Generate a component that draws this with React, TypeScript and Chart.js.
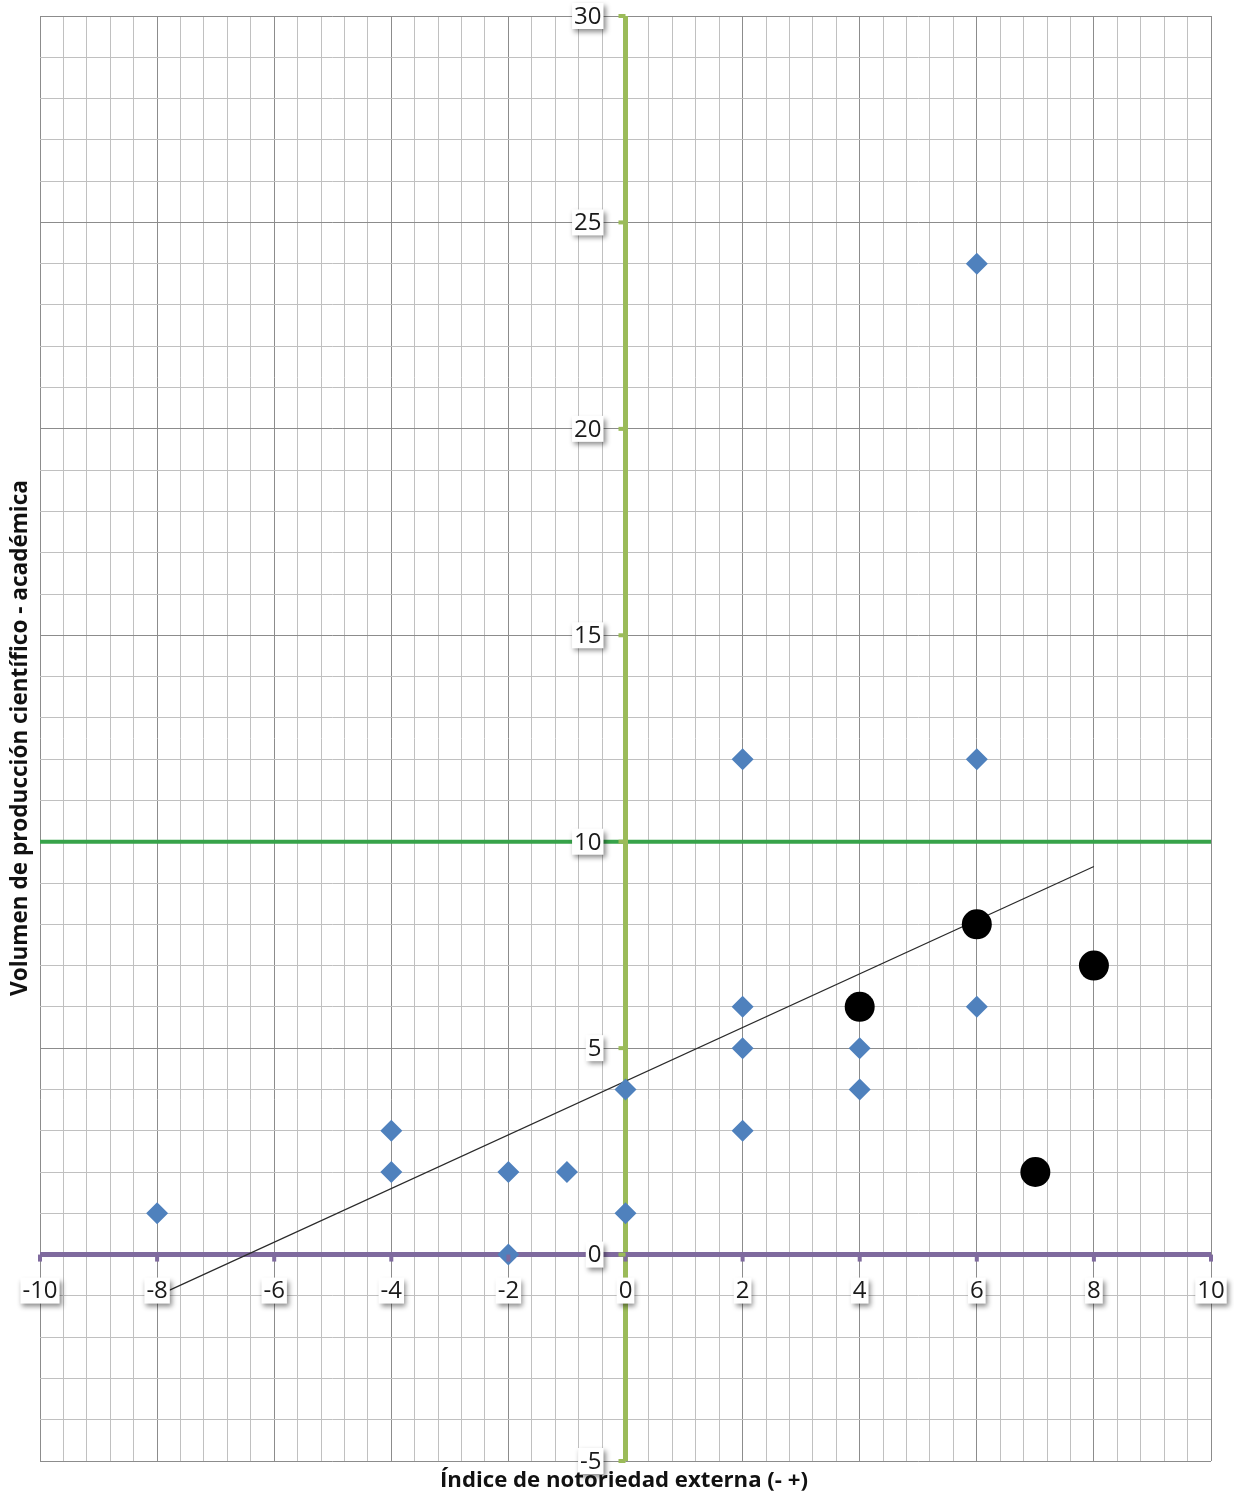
import React, { useEffect, useRef } from "react";
import { Chart, registerables } from "chart.js";

Chart.register(...registerables);

// ---- data ----
const diamondX = [-8, -4, -4, -2, -2, -1, 0, 0, 2, 2, 2, 2, 4, 4, 6, 6, 6];
const diamondY = [1, 3, 2, 2, 0, 2, 4, 1, 12, 6, 5, 3, 5, 4, 24, 12, 6];
const circleX = [4, 6, 7, 8];
const circleY = [6, 8, 2, 7];
const trendX = [-8, 8];
const trendY = [-1.0, 9.4];
const thresholdY = 10;
const xTickLabels = [-10, -8, -6, -4, -2, 0, 2, 4, 6, 8, 10];
const yTickLabels = [-5, 0, 5, 10, 15, 20, 25, 30];
const xRange = [-10, 10];
const yRange = [-5, 30];
const xTitle = "Índice de notoriedad externa (- +)";
const yTitle = "Volumen de producción científico - académica";

const TICK_FONT = "24px 'Open Sans'";
const TITLE_FAMILY = "'Open Sans'";

function isMultiple(v: number, m: number) {
  const r = v / m;
  return Math.abs(r - Math.round(r)) < 1e-6;
}

function drawLabelBox(ctx: CanvasRenderingContext2D, text: string, x: number, y: number, align: "center" | "right") {
  ctx.save();
  ctx.font = TICK_FONT;
  const w = ctx.measureText(text).width;
  const h = 26;
  const left = align === "center" ? x - w / 2 - 2 : x - w - 2;
  ctx.shadowColor = "rgba(0,0,0,0.45)";
  ctx.shadowBlur = 5;
  ctx.shadowOffsetX = 2;
  ctx.shadowOffsetY = 3;
  ctx.fillStyle = "#ffffff";
  ctx.fillRect(left, y - h / 2, w + 4, h);
  ctx.restore();
  ctx.save();
  ctx.font = TICK_FONT;
  ctx.fillStyle = "#1a1a1a";
  ctx.textBaseline = "middle";
  ctx.textAlign = align;
  ctx.fillText(text, x, y + 1);
  ctx.restore();
}

function fitFont(ctx: CanvasRenderingContext2D, text: string, target: number) {
  ctx.font = `bold 20px ${TITLE_FAMILY}`;
  const w = ctx.measureText(text).width;
  const size = (20 * target) / w;
  return `bold ${size.toFixed(2)}px ${TITLE_FAMILY}`;
}

const decorPlugin = {
  id: "decor",
  afterDatasetsDraw(chart: any) {
    const ctx: CanvasRenderingContext2D = chart.ctx;
    const xs = chart.scales.x;
    const ys = chart.scales.y;
    const x0 = xs.getPixelForValue(0);
    const y0 = ys.getPixelForValue(0);

    // tick marks on the purple axis
    ctx.save();
    ctx.strokeStyle = "#7f6a9e";
    ctx.lineWidth = 4;
    xTickLabels.forEach((v) => {
      const px = xs.getPixelForValue(v);
      ctx.beginPath();
      ctx.moveTo(px, y0);
      ctx.lineTo(px, y0 + 7);
      ctx.stroke();
    });
    // tick marks on the green axis
    ctx.strokeStyle = "#9bbb59";
    yTickLabels.forEach((v) => {
      const py = ys.getPixelForValue(v);
      ctx.beginPath();
      ctx.moveTo(x0, py);
      ctx.lineTo(x0 - 7, py);
      ctx.stroke();
    });
    ctx.restore();

    // tick labels
    xTickLabels.forEach((v) => {
      drawLabelBox(ctx, String(v), xs.getPixelForValue(v), y0 + 36, "center");
    });
    yTickLabels.forEach((v) => {
      drawLabelBox(ctx, String(v), x0 - 24, ys.getPixelForValue(v), "right");
    });

    // axis titles
    ctx.save();
    ctx.fillStyle = "#111";
    ctx.textAlign = "center";
    ctx.textBaseline = "middle";
    ctx.font = fitFont(ctx, xTitle, 368);
    ctx.fillText(xTitle, 624, chart.height - 19);
    ctx.translate(21, 738);
    ctx.rotate(-Math.PI / 2);
    ctx.font = fitFont(ctx, yTitle, 516);
    ctx.fillText(yTitle, 0, 0);
    ctx.restore();
  },
};

export default function App() {
  const ref = useRef<HTMLCanvasElement | null>(null);

  useEffect(() => {
    if (!ref.current) return;
    const diamonds = diamondX.map((x, i) => ({ x, y: diamondY[i] }));
    const circles = circleX.map((x, i) => ({ x, y: circleY[i] }));
    const trend = trendX.map((x, i) => ({ x, y: trendY[i] }));

    const chart = new Chart(ref.current, {
      type: "scatter",
      data: {
        datasets: [
          {
            label: "círculos",
            data: circles,
            pointStyle: "circle",
            pointRadius: 15,
            backgroundColor: "#000000",
            borderColor: "#000000",
            borderWidth: 0,
            order: 0,
          },
          {
            label: "puntos",
            data: diamonds,
            pointStyle: "rectRot",
            pointRadius: 11,
            backgroundColor: "#4f81bd",
            borderColor: "#4f81bd",
            borderWidth: 0,
            order: 1,
          },
          {
            type: "line",
            label: "tendencia",
            data: trend,
            borderColor: "#2a2a2a",
            borderWidth: 1.2,
            pointRadius: 0,
            fill: false,
            order: 2,
          },
          {
            type: "line",
            label: "eje y",
            data: [
              { x: 0, y: yRange[0] },
              { x: 0, y: yRange[1] },
            ],
            borderColor: "#9bbb59",
            borderWidth: 5,
            pointRadius: 0,
            fill: false,
            order: 4,
          },
          {
            type: "line",
            label: "eje x",
            data: [
              { x: xRange[0], y: 0 },
              { x: xRange[1], y: 0 },
            ],
            borderColor: "#7f6a9e",
            borderWidth: 5,
            pointRadius: 0,
            fill: false,
            order: 3,
          },
          {
            type: "line",
            label: "umbral",
            data: [
              { x: xRange[0], y: thresholdY },
              { x: xRange[1], y: thresholdY },
            ],
            borderColor: "#37a34a",
            borderWidth: 4,
            pointRadius: 0,
            fill: false,
            order: 5,
          },
        ],
      } as any,
      options: {
        responsive: false,
        animation: false,
        devicePixelRatio: 1,
        layout: { padding: { left: 40, top: 16, right: 23, bottom: 39 } },
        plugins: {
          legend: { display: false },
          tooltip: { enabled: false },
          title: { display: false },
        },
        scales: {
          x: {
            type: "linear",
            min: xRange[0],
            max: xRange[1],
            ticks: { stepSize: 0.4, display: false },
            grid: {
              drawTicks: false,
              lineWidth: 1,
              color: (c: any) => (isMultiple(c.tick.value, 2) ? "#8c8c8c" : "#c0c0c0"),
            },
            border: { display: false },
          },
          y: {
            type: "linear",
            min: yRange[0],
            max: yRange[1],
            ticks: { stepSize: 1, display: false },
            grid: {
              drawTicks: false,
              lineWidth: 1,
              color: (c: any) => (isMultiple(c.tick.value, 5) ? "#8c8c8c" : "#c0c0c0"),
            },
            border: { display: false },
          },
        },
      } as any,
      plugins: [decorPlugin],
    });
    return () => chart.destroy();
  }, []);

  return (
    <div style={{ position: "absolute", left: 0, top: 0, width: 1234, height: 1500, background: "#fff" }}>
      <canvas ref={ref} width={1234} height={1500} style={{ display: "block" }} />
    </div>
  );
}
